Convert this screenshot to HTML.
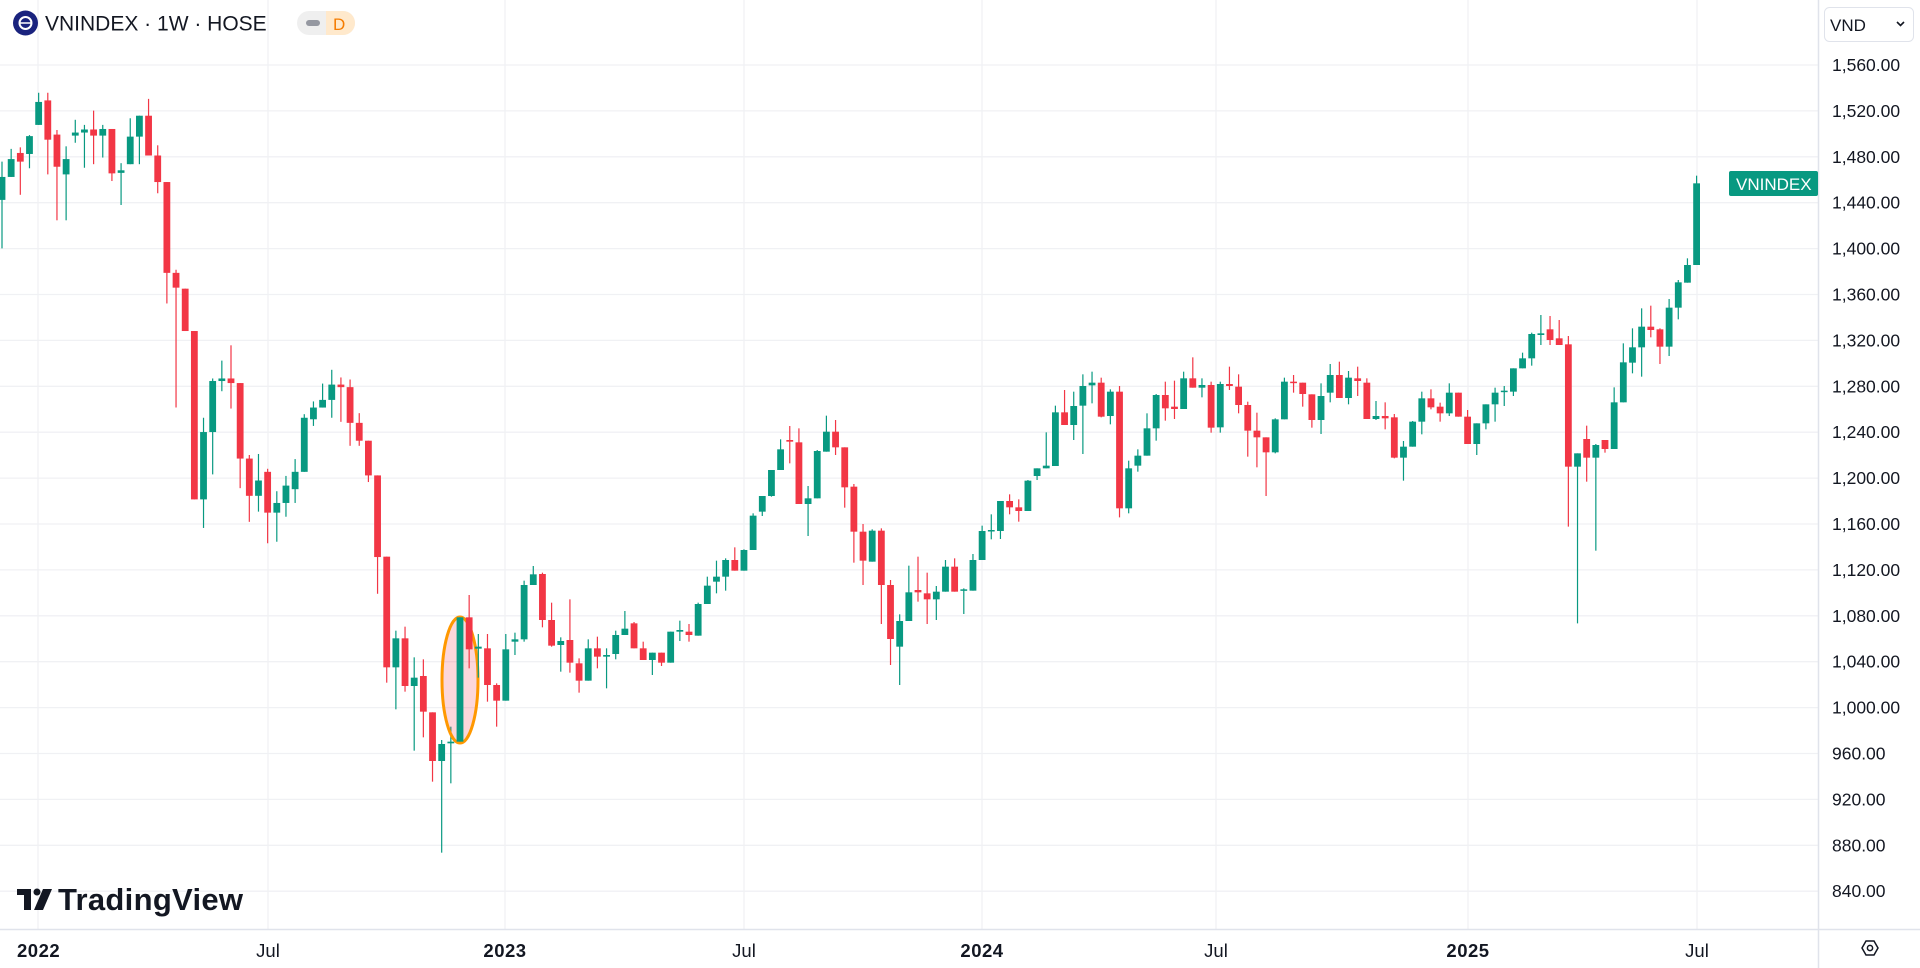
<!DOCTYPE html>
<html><head><meta charset="utf-8">
<style>
html,body{margin:0;padding:0;background:#fff;width:1920px;height:968px;overflow:hidden;font-family:"Liberation Sans",sans-serif;}
#wrap{position:relative;width:1920px;height:968px;}
svg{position:absolute;left:0;top:0;}
</style></head>
<body><div id="wrap">
<svg id="s" width="1920" height="968" xmlns="http://www.w3.org/2000/svg"></svg>
</div>
<script>
var S=document.getElementById('s');
var h='';
function yp(p){return 65+(1560-p)*1.1475;}
for(var p=1560;p>=800;p-=40){var y=yp(p);h+='<line x1="0" x2="1818" y1="'+y+'" y2="'+y+'" stroke="#f0f1f4" stroke-width="1.3"/>';}
[38,268,505,744,982,1216,1468,1697].forEach(function(x){h+='<line x1="'+x+'" x2="'+x+'" y1="0" y2="929" stroke="#f0f1f4" stroke-width="1.3"/>';});
var seg1={oy:80,sy:1.96,start:0,d:[
['G',190,235,160,330],['G',155,190,135,190],['R',143,160,132,225],['G',110,145,108,173],['G',43,88,25,88],['R',40,117,25,185],['R',107,170,98,275],['G',155,185,130,275],['G',103,109,78,123],['G',97,103,88,172],['R',97,109,60,165],['G',96,109,88,152],['R',96,183,96,198],['G',177,182,163,245],['G',111,165,75,165],['G',70,111,70,165],['R',70,148,37,148],['R',148,200,128,222],['R',200,378,200,438],['R',378,407,372,642],['R',409,492,409,492],['R',492,822,492,822],['G',690,822,662,878],['G',590,690,585,773],['G',585,590,550,610],['R',585,594,520,644],['R',594,742,594,800],['R',742,815,735,866],['G',785,815,733,846],['R',768,848,762,908],['G',829,848,806,905],['G',795,829,776,856],['G',768,802,743,829],['G',662,768,655,768],['G',642,665,630,678],['G',627,642,595,642],['G',597,627,568,662],['R',597,602,583,670],['R',602,672,587,717],['R',672,707,653,717],['R',707,775,707,788],['R',775,935,775,1007]]};
var seg2={oy:380,sy:3,start:42,d:[
['R',530,862,530,908],['G',775,862,752,988],['R',775,918,740,935],['G',893,918,832,1112],['R',888,995,838,1072],['R',997,1143,997,1205],['G',1092,1143,1080,1418],['G',1085,1090,1040,1210],['G',712,1085,712,1085],['R',712,808,645,865],['G',800,806,762,893],['R',805,915,762,965],['R',915,962,910,1040],['G',808,962,762,962],['G',778,785,758,825],['G',615,778,602,785],['G',583,615,558,615],['R',582,720,578,742],['R',720,797,668,800],['G',783,795,772,875],['R',780,848,658,878],['R',850,902,835,938],['G',805,902,778,902],['R',805,830,770,865],['G',825,830,805,925],['G',765,822,752,838],['G',746,765,693,765],['R',730,805,726,805],['R',805,840,785,840],['G',818,840,818,885],['R',818,848,818,858],['G',755,848,755,848],['G',750,755,722,783],['R',755,765,732,785],['G',672,767,668,767],['G',617,672,590,672],['G',590,605,542,640],['G',540,590,535,632],['R',540,572,502,572],['G',510,572,508,572],['G',407,510,400,510],['G',348,395,348,408],['G',270,348,270,350],['G',208,270,178,270],['R',180,185,138,250],['R',187,372,145,372],['G',355,372,318,468],['G',213,355,210,355],['G',155,215,107,215],['R',155,202,120,225],['R',202,322,202,383],['R',320,455,312,548],['R',455,542,432,615],['G',452,545,448,545]]};
var seg3={oy:340,sy:3,start:96,d:[
['R',572,735,565,852],['R',735,897,720,975],['G',843,920,823,1035],['G',757,843,677,843],['R',750,757,650,785],['R',760,778,698,852],['G',755,778,738,840],['G',680,755,660,755],['R',680,755,655,755],['G',748,752,745,822],['G',660,752,642,752],['G',573,660,557,660],['G',570,574,523,598],['G',483,573,483,597],['R',483,502,463,523],['R',502,513,478,545],['G',422,513,420,513],['G',385,408,385,420],['G',377,385,277,385],['G',217,378,197,378],['R',217,255,150,255],['G',198,255,155,300],['G',138,197,103,342],['G',128,136,95,190],['R',128,230,113,232],['G',155,228,148,253],['R',155,505,138,532],['G',385,505,362,520],['G',347,377,328,395],['G',265,347,220,347],['G',165,265,162,302],['R',165,205,125,242],['R',200,207,122,237],['G',115,207,95,207],['R',115,143,52,143],['G',135,143,115,172],['R',135,263,125,278],['G',132,262,125,278],['R',132,138,80,150],['R',140,195,103,220],['R',195,272,185,350],['R',272,292,218,382],['R',292,337,292,468],['G',238,337,235,340],['G',125,238,113,238],['R',125,128,105,158]]};
var seg4={oy:160,sy:3,start:142,d:[
['R',668,702,668,740],['R',703,780,703,803],['G',708,780,670,822],['G',645,698,612,727],['R',645,714,605,714],['G',653,714,633,733],['R',655,663,620,708],['R',668,777,655,777],['G',768,777,723,780],['R',768,775,727,808],['R',772,893,762,895],['G',860,893,843,962],['G',785,860,783,860],['G',715,785,695,823],['R',715,742,688,748],['R',740,760,728,785],['G',698,760,670,768],['R',698,770,698,770],['R',770,852,750,852],['G',790,852,790,885],['G',733,790,733,808],['G',698,733,683,785],['G',692,696,678,738],['G',625,695,625,708],['G',595,625,578,625],['G',522,595,518,617],['G',520,525,465,555],['R',508,540,468,555],['R',535,555,480,555],['R',553,920,528,1100],['G',880,920,880,1390],['R',837,893,797,965],['G',855,893,852,1172],['R',840,867,840,878],['G',727,867,682,867],['G',607,727,550,727],['G',562,608,505,640],['G',500,562,445,650],['R',500,510,437,532],['R',508,560,505,612],['G',443,560,417,588],['G',367,443,360,478],['G',315,368,295,368],['G',70,315,47,315]]};
[seg1,seg2,seg3,seg4].forEach(function(sg){
 sg.d.forEach(function(c,k){
  var i=sg.start+k, x=2+9.16*i;
  var f=function(z){return sg.oy+z/sg.sy;};
  var col=c[0]=='G'?'#089981':'#f23645';
  var bt=f(c[1]),bb=f(c[2]),wt=f(c[3]),wb=f(c[4]);
  if(bb-bt<1.5){bb=bt+1.5;}
  if(i==50){
    h+='<ellipse cx="460" cy="680" rx="18" ry="63" fill="rgba(242,54,69,0.2)" stroke="#ff9800" stroke-width="3"/>';
  }
  h+='<line x1="'+x+'" x2="'+x+'" y1="'+wt+'" y2="'+wb+'" stroke="'+col+'" stroke-width="1.2"/>';
  h+='<rect x="'+(x-3.4)+'" y="'+bt+'" width="6.8" height="'+(bb-bt)+'" fill="'+col+'"/>';
 });
});
h+='<rect x="1818" y="0" width="102" height="968" fill="#fff"/>';
h+='<rect x="0" y="929" width="1920" height="39" fill="#fff"/>';
h+='<line x1="1818.5" x2="1818.5" y1="0" y2="968" stroke="#e0e3eb" stroke-width="1.5"/>';
h+='<line x1="0" x2="1920" y1="929.5" y2="929.5" stroke="#e0e3eb" stroke-width="1.5"/>';
for(var p=1560;p>=840;p-=40){var y=yp(p);var t=p>=1000?(Math.floor(p/1000)+','+String(p%1000).padStart(3,'0')+'.00'):(p+'.00');
 h+='<text x="1832" y="'+(y+6)+'" font-size="17.5" fill="#131722" font-family="Liberation Sans, sans-serif">'+t+'</text>';}
h+='<rect x="1824.5" y="7.5" width="89" height="34" rx="5" fill="#fff" stroke="#e0e3eb"/>';
h+='<text x="1830" y="31" font-size="17" fill="#131722">VND</text>';
h+='<path d="M1897 22 l3.5 3.5 l3.5 -3.5" fill="none" stroke="#131722" stroke-width="1.6"/>';
h+='<rect x="1729" y="171" width="89" height="25" rx="2" fill="#089981"/>';
h+='<text x="1736" y="190" font-size="17" fill="#fff">VNINDEX</text>';
[[17,'2022',1],[268,'Jul',0],[505,'2023',1],[744,'Jul',0],[982,'2024',1],[1216,'Jul',0],[1468,'2025',1],[1697,'Jul',0]].forEach(function(a){
 if(a[0]==17) h+='<text x="17" y="957" font-size="18.5" font-weight="bold" fill="#131722" letter-spacing="0.5">2022</text>';
 else h+='<text x="'+a[0]+'" y="957" text-anchor="middle" font-size="18.5" '+(a[2]?'font-weight="bold" letter-spacing="0.5"':'')+' fill="#131722">'+a[1]+'</text>';
});
h+='<polygon points="1862,948 1866,941 1874,941 1878,948 1874,955 1866,955" fill="none" stroke="#131722" stroke-width="1.5"/><circle cx="1870" cy="948" r="2.6" fill="none" stroke="#131722" stroke-width="1.5"/>';
h+='<circle cx="25.5" cy="23" r="12.5" fill="#1a237e"/><circle cx="25.5" cy="23" r="6" fill="none" stroke="#fff" stroke-width="2"/><line x1="20" x2="31" y1="23" y2="23" stroke="#fff" stroke-width="1.5"/>';
h+='<text x="45" y="30.5" font-size="21" fill="#131722">VNINDEX · 1W · HOSE</text>';
h+='<rect x="297" y="11" width="58" height="24" rx="12" fill="#efefef"/>';
h+='<path d="M326 11 h17 a12 12 0 0 1 0 24 h-17 z" fill="#ffe9cc"/>';
h+='<rect x="306" y="20" width="14" height="6" rx="3" fill="#9598a1"/>';
h+='<text x="333" y="30" font-size="17" fill="#f57c00">D</text>';
h+='<rect x="17" y="889" width="14" height="6" fill="#131722"/><rect x="24" y="889" width="7" height="21" fill="#131722"/>';
h+='<circle cx="37" cy="892" r="3.5" fill="#131722"/><polygon points="43,889 52,889 43,910 34,910" fill="#131722"/>';
h+='<text x="58" y="910" font-size="31" font-weight="bold" fill="#131722" letter-spacing="0.3">TradingView</text>';
S.innerHTML=h;
</script>
</body></html>
